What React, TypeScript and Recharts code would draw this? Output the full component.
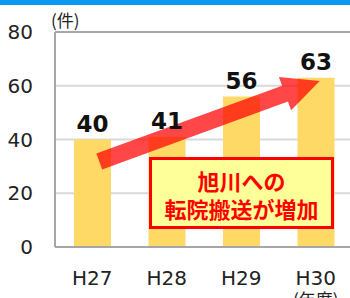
import React from 'react';
import { BarChart, Bar, XAxis, YAxis, CartesianGrid, ReferenceLine, LabelList } from 'recharts';

const years = ['H27', 'H28', 'H29', 'H30'];
const counts = [40, 41, 56, 63];
const yTicks = [0, 20, 40, 60, 80];
const arrowFrom = { x: 'H27', y: 31.8 };
const arrowTo = { x: 'H30', y: 61.8 };

const data = years.map((year, i) => ({ year, count: counts[i] }));

const FONT = '"DejaVu Sans", "Noto Sans CJK JP", sans-serif';

const XTick = (props: any) => {
  const { x, y, payload, index } = props;
  return (
    <g>
      <text x={x} y={y} dy={15} textAnchor="middle" fill="#222" fontSize={20} fontFamily={FONT}>
        {payload.value}
      </text>
      {index === years.length - 1 && (
        <text x={x} y={y} dy={36} textAnchor="middle" fill="#222" fontSize={17} fontFamily='"Noto Sans CJK JP", sans-serif'>
          (年度)
        </text>
      )}
    </g>
  );
};

// thick semi-transparent arrow drawn between the two segment points
const Arrow = (props: any) => {
  const x1 = props.x1 + 7;
  const y1 = props.y1;
  const x2 = props.x2 + 4;
  const y2 = props.y2;
  const len = Math.hypot(x2 - x1, y2 - y1);
  const ux = (x2 - x1) / len;
  const uy = (y2 - y1) / len;
  const nx = -uy;
  const ny = ux;
  const shaft = 8.5;
  const head = 17.7;
  const headLen = 37;
  const bx = x2 - ux * headLen;
  const by = y2 - uy * headLen;
  const pts = [
    [x1 + nx * shaft, y1 + ny * shaft],
    [bx + nx * shaft, by + ny * shaft],
    [bx + nx * head, by + ny * head],
    [x2, y2],
    [bx - nx * head, by - ny * head],
    [bx - nx * shaft, by - ny * shaft],
    [x1 - nx * shaft, y1 - ny * shaft],
  ];
  return <polygon points={pts.map((p) => p.join(',')).join(' ')} fill="#ff0000" fillOpacity={0.72} />;
};

export default function App() {
  return (
    <div style={{ position: 'absolute', left: 0, top: 0, width: 350, height: 298, overflow: 'hidden', background: '#fff', fontFamily: FONT }}>
      <div style={{ position: 'absolute', left: 0, top: 0, width: 350, height: 5, background: '#0a98f2' }} />
      <div style={{ position: 'absolute', left: 51, top: 11, fontSize: 17, lineHeight: '17px', color: '#222', fontFamily: '"Noto Sans CJK JP", sans-serif' }}>
        (件)
      </div>
      <BarChart width={360} height={298} data={data} margin={{ top: 32, right: 7, bottom: 21, left: 0 }} barSize={37}>
        <CartesianGrid vertical={false} stroke="#d9d9d9" strokeWidth={2} />
        <XAxis
          dataKey="year"
          height={30}
          axisLine={{ stroke: '#a6a6a6', strokeWidth: 2 }}
          tickLine={false}
          tickMargin={17}
          tick={<XTick />}
          interval={0}
        />
        <YAxis
          width={55}
          domain={[0, 80]}
          ticks={yTicks}
          axisLine={{ stroke: '#a6a6a6', strokeWidth: 2 }}
          tickLine={false}
          tickMargin={16}
          tick={{ fill: '#222', fontSize: 20, fontFamily: FONT }}
        />
        <ReferenceLine y={80} stroke="#a6a6a6" strokeWidth={2} />
        <Bar dataKey="count" fill="#ffd966" isAnimationActive={false}>
          <LabelList dataKey="count" position="top" offset={8} fill="#111" fontSize={23} fontWeight="bold" fontFamily={FONT} />
        </Bar>
        <ReferenceLine segment={[arrowFrom, arrowTo]} shape={(p: any) => <Arrow {...p} />} />
      </BarChart>
      <div
        style={{
          position: 'absolute',
          left: 149,
          top: 157,
          width: 185,
          height: 72,
          boxSizing: 'border-box',
          border: '3px solid #ff0000',
          background: '#ffff99',
          color: '#ff0000',
          fontWeight: 'bold',
          fontSize: 22,
          lineHeight: '28px',
          textAlign: 'center',
          paddingTop: 6,
          fontFamily: '"Noto Sans CJK JP", sans-serif',
        }}
      >
        旭川への
        <br />
        転院搬送が増加
      </div>
    </div>
  );
}
